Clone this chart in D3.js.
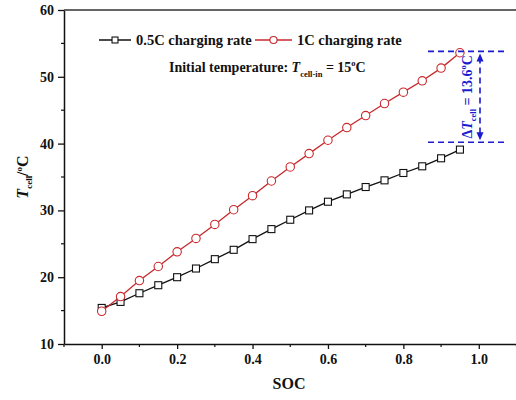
<!DOCTYPE html>
<html>
<head>
<meta charset="utf-8">
<script src="https://cdn.jsdelivr.net/npm/d3@7"></script>
<style>
  html, body { margin: 0; padding: 0; background: #fff; }
  svg { display: block; }
  svg text { font-family: "Liberation Serif", "Times New Roman", serif; }
</style>
</head>
<body>
<svg id="chart" width="516" height="400"></svg>
<script>
// State of charge sampling points
const soc = [0.00, 0.05, 0.10, 0.15, 0.20, 0.25, 0.30, 0.35, 0.40, 0.45,
             0.50, 0.55, 0.60, 0.65, 0.70, 0.75, 0.80, 0.85, 0.90, 0.95];
// Cell temperature (°C) at 0.5C charging rate
const temp05C = [15.4, 16.3, 17.6, 18.8, 20.0, 21.3, 22.7, 24.1, 25.7, 27.2,
                 28.6, 30.0, 31.3, 32.4, 33.5, 34.5, 35.6, 36.6, 37.8, 39.1];
// Cell temperature (°C) at 1C charging rate
const temp1C = [14.9, 17.1, 19.5, 21.6, 23.8, 25.8, 27.9, 30.1, 32.2, 34.4,
                36.5, 38.5, 40.5, 42.4, 44.2, 46.0, 47.7, 49.4, 51.3, 53.6];
// Axis ticks
const xTicks = [0.0, 0.2, 0.4, 0.6, 0.8, 1.0];
const xMinorTicks = [-0.1, 0.1, 0.3, 0.5, 0.7, 0.9, 1.1];
const yTicks = [10, 20, 30, 40, 50, 60];
const yMinorTicks = [15, 25, 35, 45, 55];
// Temperature-rise annotation levels (°C)
const deltaTop = 53.8;
const deltaBottom = 40.2;
const deltaValue = 13.6;

const FONT = "Liberation Serif, Times New Roman, serif";
const svg = d3.select("#chart");
const x = d3.scaleLinear().domain([-0.1, 1.1]).range([64, 516.5]);
const y = d3.scaleLinear().domain([10, 60]).range([344, 10]);

const ink = "#111";

// Axes
const xAxis = d3.axisBottom(x).tickValues(xTicks).tickFormat(d3.format(".1f"))
  .tickSizeInner(5).tickSizeOuter(0).tickPadding(5);
const gx = svg.append("g").attr("transform", `translate(0,${y(10)})`).call(xAxis)
  .attr("font-family", FONT);
gx.selectAll(".tick text").attr("font-size", 14).attr("font-weight", "bold").attr("fill", ink)
  .attr("font-family", FONT);
gx.selectAll("line").attr("stroke", ink).attr("stroke-width", 1.3);
gx.select(".domain").attr("stroke", ink).attr("stroke-width", 1.5);
gx.selectAll(".minor").data(xMinorTicks).enter().append("line")
  .attr("x1", d => x(d)).attr("x2", d => x(d)).attr("y1", 0).attr("y2", 3)
  .attr("stroke", ink).attr("stroke-width", 1.2);

const yAxis = d3.axisLeft(y).tickValues(yTicks).tickFormat(d3.format("d"))
  .tickSizeInner(6).tickSizeOuter(0).tickPadding(4);
const gy = svg.append("g").attr("transform", `translate(${x(-0.1)},0)`).call(yAxis)
  .attr("font-family", FONT);
gy.selectAll(".tick text").attr("font-size", 14).attr("font-weight", "bold").attr("fill", ink)
  .attr("font-family", FONT);
gy.selectAll("line").attr("stroke", ink).attr("stroke-width", 1.3);
gy.select(".domain").attr("stroke", ink).attr("stroke-width", 1.5);
gy.selectAll(".minor").data(yMinorTicks).enter().append("line")
  .attr("x1", 0).attr("x2", -3).attr("y1", d => y(d)).attr("y2", d => y(d))
  .attr("stroke", ink).attr("stroke-width", 1.2);

// Top frame
svg.append("line").attr("x1", x(-0.1)).attr("x2", 516).attr("y1", y(60)).attr("y2", y(60))
  .attr("stroke", "#333").attr("stroke-width", 1.3);

// Axis titles
svg.append("text").attr("x", (x(-0.1) + 516) / 2 - 1).attr("y", 389)
  .attr("font-family", FONT)
  .attr("text-anchor", "middle").attr("font-size", 16).attr("font-weight", "bold").attr("fill", ink)
  .text("SOC");

const yTitle = svg.append("text")
  .attr("transform", `translate(28,${y(35)}) rotate(-90)`)
  .attr("font-family", FONT)
  .attr("text-anchor", "middle").attr("font-size", 16).attr("font-weight", "bold").attr("fill", ink);
yTitle.append("tspan").attr("font-style", "italic").text("T");
yTitle.append("tspan").attr("font-size", 9).attr("dy", 4).text("cell");
yTitle.append("tspan").attr("dy", -4).text("/");
yTitle.append("tspan").attr("font-size", 9).attr("dy", -6).text("o");
yTitle.append("tspan").attr("dy", 6).text("C");

// Series
const series = [
  { name: "0.5C charging rate", values: temp05C, color: "#111", marker: "square" },
  { name: "1C charging rate", values: temp1C, color: "#c8282c", marker: "circle" }
];

const line = d3.line().x(d => x(d[0])).y(d => y(d[1]));

function drawMarker(g, kind, color, scale = 1) {
  if (kind === "square") {
    const h = 3.5 * scale;
    g.append("rect").attr("x", -h).attr("y", -h).attr("width", 2 * h).attr("height", 2 * h)
      .attr("fill", "#fff").attr("stroke", color).attr("stroke-width", 1.1);
  } else {
    g.append("circle").attr("r", 4.2 * scale)
      .attr("fill", "#fff").attr("stroke", color).attr("stroke-width", 1.1);
  }
}

series.forEach(s => {
  const pts = soc.map((v, i) => [v, s.values[i]]);
  svg.append("path").datum(pts).attr("d", line)
    .attr("fill", "none").attr("stroke", s.color).attr("stroke-width", 1.3);
  pts.forEach(p => {
    const g = svg.append("g").attr("transform", `translate(${x(p[0])},${y(p[1])})`);
    drawMarker(g, s.marker, s.color);
  });
});

// Legend
const legendY = 40;
const legendItems = [
  { s: series[0], x0: 99, x1: 131, tx: 136 },
  { s: series[1], x0: 255, x1: 292, tx: 297 }
];
legendItems.forEach(it => {
  svg.append("line").attr("x1", it.x0).attr("x2", it.x1).attr("y1", legendY).attr("y2", legendY)
    .attr("stroke", it.s.color).attr("stroke-width", 1.5);
  const g = svg.append("g").attr("transform", `translate(${(it.x0 + it.x1) / 2},${legendY})`);
  drawMarker(g, it.s.marker, it.s.color, 0.85);
  svg.append("text").attr("x", it.tx).attr("y", legendY + 5)
    .attr("font-family", FONT)
    .attr("font-size", 14.5).attr("font-weight", "bold").attr("fill", ink).text(it.s.name);
});

const initText = svg.append("text").attr("x", 169).attr("y", 72)
  .attr("font-family", FONT)
  .attr("font-size", 14).attr("font-weight", "bold").attr("fill", ink);
initText.append("tspan").text("Initial temperature: ");
initText.append("tspan").attr("font-style", "italic").text("T");
initText.append("tspan").attr("font-size", 8.5).attr("dy", 5).text("cell-in");
initText.append("tspan").attr("dy", -5).text(" =  15");
initText.append("tspan").attr("font-size", 8.5).attr("dy", -6).text("o");
initText.append("tspan").attr("dy", 6).text("C");

// Temperature rise annotation
const blue = "#1a1ad0";
[deltaTop, deltaBottom].forEach(v => {
  svg.append("line").attr("x1", 428).attr("x2", 508).attr("y1", y(v)).attr("y2", y(v))
    .attr("stroke", blue).attr("stroke-width", 1.6).attr("stroke-dasharray", "6,4");
});
const ax = 480;
svg.append("line").attr("x1", ax).attr("x2", ax)
  .attr("y1", y(deltaTop) + 6).attr("y2", y(deltaBottom) - 6)
  .attr("stroke", blue).attr("stroke-width", 1.6).attr("stroke-dasharray", "6,4");
svg.append("path")
  .attr("d", `M${ax},${y(deltaTop) + 2} l-3.5,8 l7,0 Z`).attr("fill", blue);
svg.append("path")
  .attr("d", `M${ax},${y(deltaBottom) - 2} l-3.5,-8 l7,0 Z`).attr("fill", blue);

const dText = svg.append("text")
  .attr("transform", `translate(472,${(y(deltaTop) + y(deltaBottom)) / 2}) rotate(-90)`)
  .attr("font-family", FONT)
  .attr("text-anchor", "middle").attr("font-size", 14).attr("font-weight", "bold").attr("fill", blue);
dText.append("tspan").text("Δ");
dText.append("tspan").attr("font-style", "italic").text("T");
dText.append("tspan").attr("font-size", 8.5).attr("dy", 4).text("cell");
dText.append("tspan").attr("dy", -4).text(` = ${deltaValue.toFixed(1)}`);
dText.append("tspan").attr("font-size", 8.5).attr("dy", -6).text("o");
dText.append("tspan").attr("dy", 6).text("C");
</script>
</body>
</html>
